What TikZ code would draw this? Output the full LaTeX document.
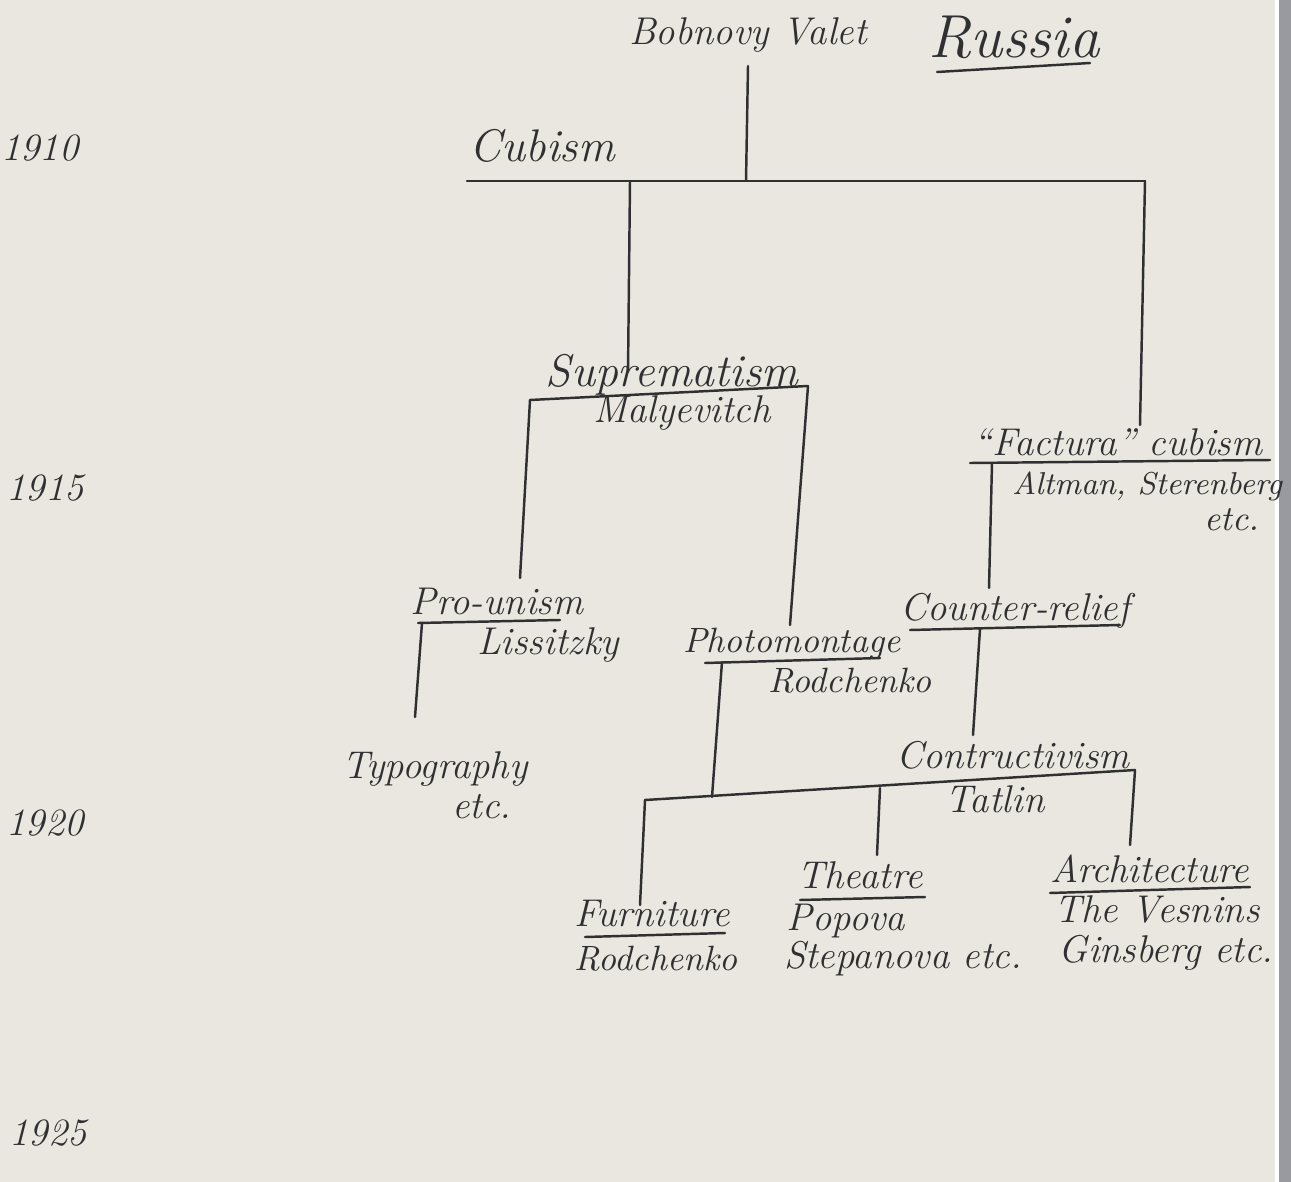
\documentclass[tikz,border=0pt]{standalone}
\usetikzlibrary{positioning}
\definecolor{paper}{RGB}{233,231,223}
\definecolor{ink}{RGB}{48,48,50}
\definecolor{mount}{RGB}{152,154,160}
\tikzset{hand/.style = {font=\fontsize{11}{13}\selectfont\itshape, text=ink, inner sep=1pt, anchor=base},
         bar/.style = {draw=ink, line width=0.7pt, line cap=round}}

\begin{document}
\begin{tikzpicture}[x=0.01cm, y=-0.01cm]
  \useasboundingbox (0,0) rectangle (1291,1182);
  \fill[paper] (0,0) rectangle (1291,1182);
  \fill[mount] (1278,0) rectangle (1291,1182);
  \draw[white, line width=1.2pt] (1277,0) -- (1277,1182);

  % years down the margin
  \node[hand] (y1910) at (40,160) {1910};
  \node[hand] (y1915) at (45,500) {1915};
  \node[hand] (y1920) at (45,835) {1920};
  \node[hand] (y1925) at (48,1145) {1925};

  % movements and names
  \node[hand] (valet) at (748,45) {Bobnovy Valet};
  \node[hand, font=\LARGE\itshape] (russia) at (1014,58) {Russia};
  \node[hand, font=\fontsize{13}{15}\selectfont\itshape] (cubism) at (542,162) {Cubism};
  \node[hand, font=\fontsize{13}{15}\selectfont\itshape] (suprem) at (672,386) {Suprematism};
  \node[hand] (malev) at (682,422) {Malyevitch};
  \node[hand] (factura) at (1118,455) {``Factura'' cubism};
  \node[hand, font=\fontsize{9}{11}\selectfont\itshape] (altman) at (1147,494) {Altman, Sterenberg};
  \node[hand, font=\fontsize{10}{12}\selectfont\itshape] (altetc) at (1232,530) {etc.};
  \node[hand] (prounism) at (497,614) {Pro-unism};
  \node[hand] (lissitzky) at (548,654) {Lissitzky};
  \node[hand, font=\fontsize{10}{12}\selectfont\itshape] (photo) at (792,652) {Photomontage};
  \node[hand, font=\fontsize{10}{12}\selectfont\itshape] (rodA) at (850,692) {Rodchenko};
  \node[hand] (counter) at (1015,620) {Counter-relief};
  \node[hand] (typo) at (435,778) {Typography};
  \node[hand] (typoetc) at (482,818) {etc.};
  \node[hand] (constr) at (1013,768) {Contructivism};
  \node[hand] (tatlin) at (995,812) {Tatlin};
  \node[hand] (furn) at (652,926) {Furniture};
  \node[hand, font=\fontsize{10}{12}\selectfont\itshape] (rodB) at (656,970) {Rodchenko};
  \node[hand] (theatre) at (860,888) {Theatre};
  \node[hand] (popova) at (846,930) {Popova};
  \node[hand] (stepan) at (903,968) {Stepanova etc.};
  \node[hand] (arch) at (1150,882) {Architecture};
  \node[hand] (vesnin) at (1157,922) {The Vesnins};
  \node[hand] (ginsb) at (1166,962) {Ginsberg etc.};

  % bar ends
  \coordinate (rusL) at (937,72);     \coordinate (rusR) at (1090,63);
  \coordinate (cubL) at (467,181);    \coordinate (cubR) at (1145,181);
  \coordinate (cubS) at (630,181);    \coordinate (cubV) at (746,181);
  \coordinate (supL) at (530,400);    \coordinate (supR) at (808,386);
  \coordinate (facL) at (970,463);    \coordinate (facR) at (1270,460);
  \coordinate (facS) at (992,463);
  \coordinate (proL) at (418,623);    \coordinate (proR) at (560,620);
  \coordinate (proS) at (422,623);
  \coordinate (phoL) at (705,663);    \coordinate (phoR) at (880,658);
  \coordinate (phoS) at (722,662);
  \coordinate (couL) at (910,630);    \coordinate (couR) at (1120,625);
  \coordinate (couS) at (980,629);
  \coordinate (conL) at (645,800);    \coordinate (conR) at (1135,770);
  \coordinate (conM) at (880,788);    \coordinate (conP) at (712,797);
  \coordinate (furL) at (585,937);    \coordinate (furR) at (725,933);
  \coordinate (theL) at (800,900);    \coordinate (theR) at (925,897);
  \coordinate (arcL) at (1050,893);   \coordinate (arcR) at (1250,887);

  % underlines and branches
  \draw[bar] (rusL) -- (rusR);
  \draw[bar] (748,66) -- (cubV);
  \draw[bar] (cubL) -- (cubR);
  \draw[bar] (cubS) -- (628,372);
  \draw[bar] (cubR) -- (1140,425);
  \draw[bar] (supL) -- (supR);
  \draw[bar] (supL) -- (520,578);
  \draw[bar] (supR) -- (790,625);
  \draw[bar] (facL) -- (facR);
  \draw[bar] (facS) -- (989,588);
  \draw[bar] (proL) -- (proR);
  \draw[bar] (proS) -- (415,717);
  \draw[bar] (phoL) -- (phoR);
  \draw[bar] (phoS) -- (conP);
  \draw[bar] (couL) -- (couR);
  \draw[bar] (couS) -- (973,735);
  \draw[bar] (conL) -- (conR);
  \draw[bar] (conL) -- (640,905);
  \draw[bar] (conM) -- (877,855);
  \draw[bar] (conR) -- (1130,845);
  \draw[bar] (furL) -- (furR);
  \draw[bar] (theL) -- (theR);
  \draw[bar] (arcL) -- (arcR);
\end{tikzpicture}
\end{document}
